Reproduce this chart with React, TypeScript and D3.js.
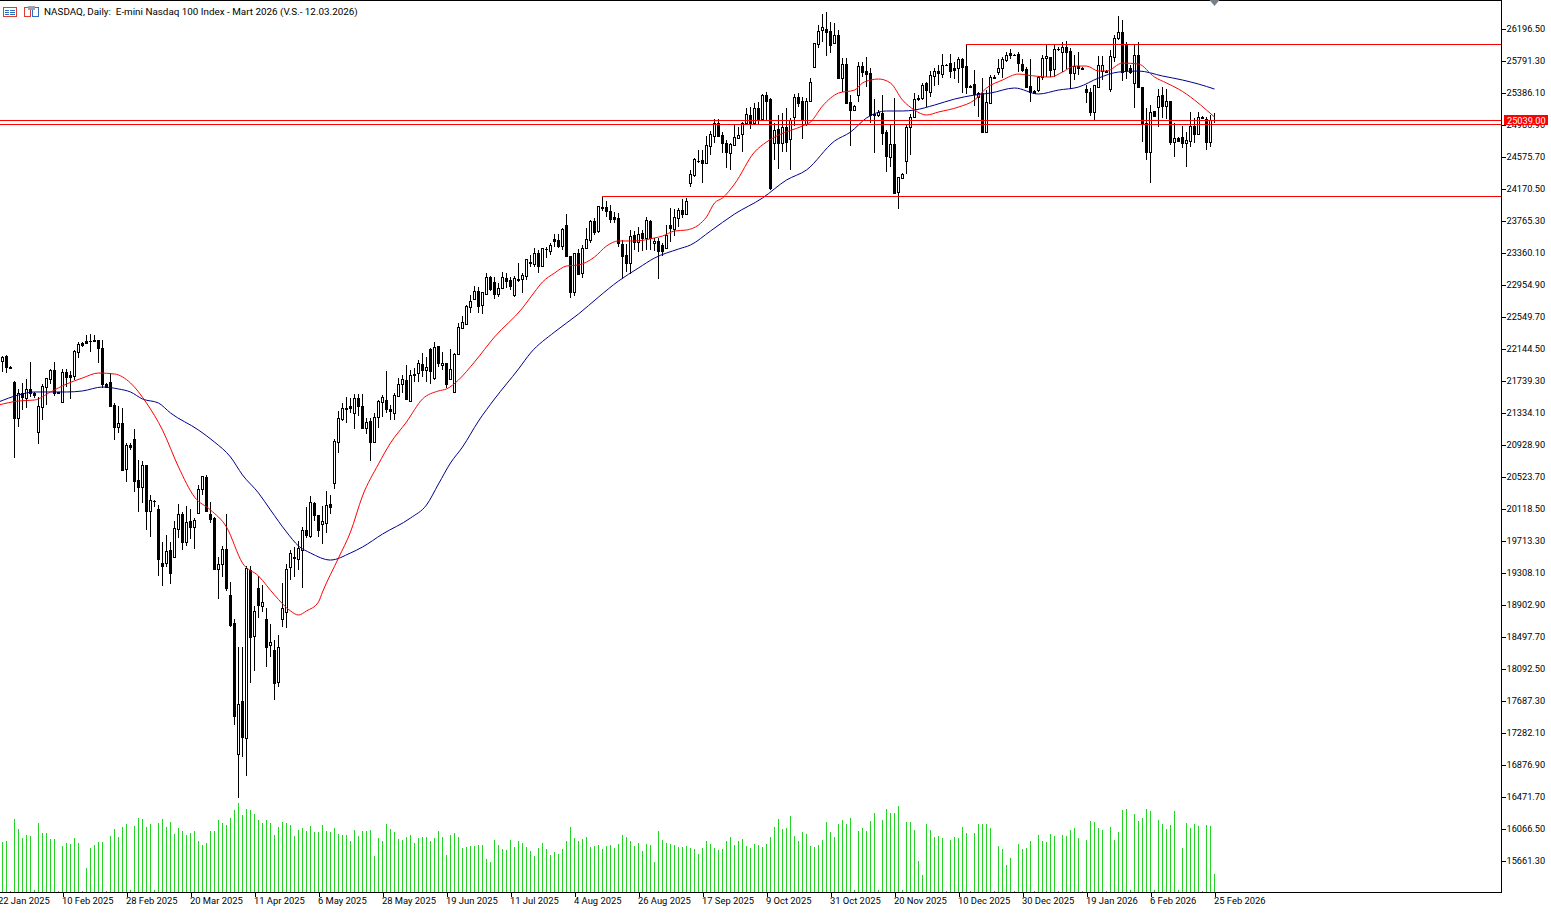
import { useEffect, useRef } from "react";
import * as d3 from "d3";

const WIDTH = 1551;
const HEIGHT = 913;

// daily bars: open, high, low, close
const ohlc: number[][] = [
  [21986,22049,21847,22036],[22049,22062,21834,21910],[21910,21923,21885,21900],[21721,21733,20758,21264],
  [21264,21632,21150,21581],[21581,21708,21366,21530],[21517,21759,21391,21632],[21632,21974,21530,21581],
  [21581,21590,21517,21556],[21087,21530,20935,21416],[21404,21695,21239,21670],[21657,21771,21429,21771],
  [21759,21885,21695,21872],[21872,21974,21543,21581],[21594,21600,21575,21581],[21467,21885,21467,21847],
  [21847,21885,21657,21784],[21809,21860,21505,21784],[21797,22125,21746,22112],[22100,22227,22024,22201],
  [22214,22227,22163,22189],[22239,22315,22201,22214],[22239,22328,22100,22235],[22252,22315,22227,22239],
  [22252,22252,21961,22151],[22151,22252,21645,21695],[21695,21708,21645,21657],[21721,21834,21404,21416],
  [21429,21454,20986,21150],[21150,21416,21074,21201],[21201,21391,20593,20606],[20619,20948,20454,20923],
  [20923,20948,20859,20897],[20998,21125,20327,20467],[20479,20733,20075,20391],[20391,20720,20188,20670],
  [20670,20670,19846,20087],[20087,20289,19758,20226],[20213,20226,20138,20219],[20112,20163,19264,19479],
  [19428,19695,19137,19390],[19428,19783,19378,19580],[19593,19695,19163,19302],[19504,19960,19504,19871],
  [19859,20176,19745,20049],[20049,20075,19593,19695],[19695,20150,19644,19948],[19960,20112,19732,19884],
  [19884,19998,19605,19973],[20062,20416,20062,20366],[20366,20530,20289,20530],[20517,20543,20075,20087],
  [20049,20201,19935,19986],[19998,20011,19352,19352],[19352,19504,18973,19416],[19416,19644,19251,19605],
  [19605,20049,19074,19112],[19023,19188,18618,18643],[18669,18720,17378,17491],[17010,18365,16453,17643],
  [17681,18365,16972,17225],[17213,19390,16731,19365],[19340,19390,17909,18491],[18504,18884,18061,18821],
  [19112,19264,18732,18897],[18884,19150,18808,18935],[18720,18859,18112,18365],[18390,18656,18238,18428],
  [18327,18453,17694,17909],[17922,18517,17858,18365],[18720,19175,18618,18859],[18808,19416,18605,19352],
  [19378,19593,19213,19555],[19504,19631,19251,19492],[19479,19707,19340,19618],[19593,19884,19112,19846],
  [19846,20138,19745,19783],[19770,20277,19745,20201],[20188,20201,19960,20037],[20037,20037,19758,19846],
  [19922,20150,19669,19960],[19935,20340,19808,20163],[20176,20289,20049,20138],[20441,20998,20366,20973],
  [20960,21353,20821,21264],[21252,21454,21226,21391],[21378,21530,21201,21391],[21416,21517,21328,21391],
  [21328,21568,21125,21517],[21517,21568,21290,21416],[21416,21568,21138,21138],[21138,21264,21062,21214],
  [21226,21264,20720,20960],[20960,21328,20960,21277],[21277,21492,21138,21480],[21467,21556,21277,21530],
  [21492,21860,21328,21378],[21378,21429,21239,21353],[21328,21581,21239,21556],[21543,21771,21530,21695],
  [21695,21809,21581,21759],[21746,21935,21492,21505],[21480,21872,21467,21809],[21815,21897,21721,21822],
  [21834,21999,21721,21961],[21948,22087,21784,21872],[21872,22036,21721,21910],[22138,22151,21695,21860],
  [21771,22227,21746,22163],[22176,22176,21910,21961],[21936,22100,21872,21961],[21961,21961,21645,21695],
  [21759,22138,21746,21885],[21594,22087,21594,22075],[22075,22467,22075,22416],[22404,22556,22404,22480],
  [22455,22695,22455,22682],[22670,22822,22594,22746],[22771,22936,22759,22872],[22872,22923,22594,22682],
  [22695,22860,22581,22860],[22835,23100,22822,23050],[23050,23062,22872,22898],[22986,23050,22771,22835],
  [22835,22974,22797,22910],[22910,23113,22898,23050],[23037,23100,22910,22999],[23012,23050,22885,22936],
  [22822,23062,22797,23037],[23015,23227,22986,23025],[23025,23100,22847,23075],[23062,23277,23012,23277],
  [23240,23328,23176,23227],[23214,23417,23176,23354],[23354,23392,23100,23189],[23189,23417,23176,23417],
  [23400,23430,23290,23405],[23379,23480,23328,23455],[23531,23594,23430,23506],[23518,23594,23417,23442],
  [23442,23670,23392,23657],[23708,23847,23303,23315],[23315,23315,22784,22860],[22860,23354,22810,23354],
  [23354,23405,23075,23088],[23100,23455,23037,23417],[23417,23670,23417,23531],[23518,23772,23480,23759],
  [23759,23797,23581,23620],[23632,23949,23607,23949],[23936,24062,23886,23920],[23936,24011,23810,23886],
  [23886,23962,23734,23784],[23810,23873,23734,23784],[23797,23860,23430,23480],[23468,23518,23025,23316],
  [23328,23468,23113,23227],[23227,23645,23088,23569],[23582,23632,23392,23493],[23493,23683,23366,23594],
  [23607,23645,23379,23544],[23544,23810,23392,23772],[23759,23772,23392,23544],[23480,23544,23379,23506],
  [23506,23544,23025,23379],[23455,23480,23316,23379],[23417,23708,23417,23582],[23708,23923,23493,23670],
  [23657,23911,23569,23810],[23797,23923,23683,23898],[23898,24037,23797,23847],[23847,24050,23847,24011],
  [24240,24405,24189,24354],[24341,24556,24316,24544],[24515,24658,24493,24520],[24531,24658,24240,24493],
  [24493,24835,24493,24721],[24708,24898,24594,24860],[24835,25050,24746,24999],[24999,25050,24822,24835],
  [24847,24885,24620,24746],[24746,24784,24430,24632],[24620,24746,24405,24733],[24721,24974,24721,24822],
  [24809,24949,24797,24847],[24860,25012,24632,24999],[24999,25190,24987,25114],[25101,25202,24924,24999],
  [24999,25253,24974,25190],[25190,25265,24987,25050],[25050,25367,25025,25354],[25354,25392,25038,25278],
  [25303,25316,24151,24176],[24746,24999,24531,24911],[24923,25101,24417,24746],[24746,25126,24632,24949],
  [24949,25190,24632,24759],[24797,25063,24405,25038],[25076,25367,24962,25329],[25329,25380,25202,25253],
  [25278,25329,24797,25050],[24987,25316,24962,25278],[25278,25569,25278,25519],[25709,26013,25696,26013],
  [26000,26240,25949,26165],[26177,26380,26025,26215],[26190,26405,25848,26152],[26165,26278,25886,25987],
  [26013,26266,26013,26114],[26114,26177,25557,25570],[25569,25823,25392,25747],[25747,25823,25253,25253],
  [25265,25354,24708,25164],[25164,25227,25151,25215],[25354,25772,25265,25721],[25721,25772,25582,25645],
  [25658,25835,25455,25620],[25632,25696,25000,25101],[25114,25303,24620,25101],[25101,25164,25076,25139],
  [25126,25354,24721,24873],[24885,24911,24379,24582],[24569,24987,24442,24734],[24734,25316,24101,24113],
  [24126,24316,23911,24316],[24303,24367,24290,24354],[24519,24987,24354,24949],[24949,25114,24595,25076],
  [25076,25380,25076,25303],[25310,25354,25278,25316],[25316,25506,25291,25481],[25506,25519,25202,25417],
  [25392,25658,25329,25607],[25594,25696,25468,25658],[25658,25734,25481,25632],[25620,25873,25569,25734],
  [25734,25747,25721,25730],[25759,25873,25569,25658],[25696,25772,25557,25671],[25696,25835,25506,25810],
  [25810,25823,25379,25709],[25721,26000,25367,25455],[25468,25480,25443,25455],[25493,25671,25215,25367],
  [25329,25392,25076,25379],[25379,25569,24885,24885],[24885,25417,24885,25265],[25253,25607,25240,25582],
  [25582,25607,25557,25569],[25645,25810,25607,25696],[25696,25835,25569,25810],[25797,25899,25772,25860],
  [25886,25937,25810,25860],[25860,25873,25848,25855],[25873,25899,25645,25759],[25747,25810,25645,25671],
  [25683,25709,25455,25455],[25468,25810,25265,25392],[25405,25417,25367,25379],[25417,25595,25392,25582],
  [25582,25860,25544,25823],[25823,25987,25582,25848],[25835,25835,25582,25671],[25683,26000,25582,25937],
  [25937,25962,25911,25943],[25899,26025,25645,25962],[25962,26038,25683,25899],[25911,25949,25430,25632],
  [25632,25860,25544,25721],[25721,25899,25607,25696],[25696,25709,25671,25683],[25430,25481,25253,25392],
  [25392,25443,25088,25139],[25139,25481,25025,25481],[25455,25848,25455,25734],[25658,25848,25544,25734],
  [25658,25671,25645,25652],[25430,25924,25392,25848],[25835,26114,25772,26076],[26076,26354,26051,26152],
  [26152,26304,25531,25645],[25987,26025,25557,25671],[25696,25734,25620,25645],[25506,25987,25189,25860],
  [25860,26025,25455,25455],[25455,25455,24759,24999],[24999,25190,24531,24632],[24632,25227,24240,25139],
  [25152,25152,25088,25088],[25202,25430,24949,25341],[25354,25455,25063,25215],[25215,25430,25050,25278],
  [25278,25278,24721,24759],[24759,24999,24569,24810],[24810,24822,24759,24772],[24822,24961,24683,24746],
  [24746,24885,24443,24784],[24772,25139,24696,24961],[24961,25063,24746,24860],[24860,25139,24860,25076],
  [25076,25085,25060,25066],[25050,25076,24658,24759],[24759,25101,24696,25038],[25038,25126,24999,25043],
];

// tick volume, relative to the indicator window
const volumes = [
  50,51,1.5,73,63,54,57,56,2,69,59,59,53,53,1.5,46,49,48,54,49,1.5,24,44,47,50,50,1.5,56,63,55,65,68,2,66,74,73,65,68,2,69,
  73,65,70,58,64,61,57,59,61,51,47,49,61,61,72,69,67,74,82,89,77,83,82,78,72,69,72,69,57,65,70,69,67,56,62,64,61,66,60,60,
  67,61,60,64,58,57,57,51,62,56,61,61,62,36,54,51,68,63,60,53,52,55,57,49,54,55,55,51,54,61,55,37,57,59,55,44,45,46,46,47,
  47,33,30,52,47,43,42,52,45,51,49,45,41,36,44,49,43,37,40,38,43,51,65,54,51,53,55,45,46,47,43,46,47,44,48,57,55,51,46,49,
  41,48,47,30,61,52,49,48,47,45,45,46,44,43,38,44,51,48,44,42,43,51,55,47,51,53,46,44,48,47,45,48,55,65,73,63,64,76,56,51,
  60,58,46,45,47,52,70,60,55,68,72,68,74,2,61,64,61,71,79,2,72,83,79,79,86,2,70,70,62,31,17,68,62,55,56,54,1.5,52,55,54,
  65,59,1.5,59,68,68,68,64,1.5,46,43,27,34,1.5,48,43,44,51,1.5,57,51,50,58,56,1.5,57,56,62,64,54,1.5,52,71,70,64,62,1.5,65,
  52,60,82,83,2,78,71,74,83,81,2,72,68,63,67,81,2,44,69,64,68,66,1.5,67,66,18,
];

// moving averages, read at the listed bars
const redMaBars = [-1,4,8,12,16,20,24,28,32,36,40,44,48,52,56,60,64,68,72,74,76,79,80,84,87,90,94,97,101,105,109,111,114,118,123,130,133,135,138,141,144,148,151,154,158,163,165,168,171,174,176,178,180,183,188,191,194,200,202,205,209,213,215,217,219,222,225,228,231,234,239,243,246,250,254,256,262,265,268,271,274,276,280,284,288,291,294,298,301,303];
const redMaValues = [21429,21480,21492,21594,21695,21771,21834,21822,21708,21454,21112,20644,20264,20100,19884,19428,19264,19023,18821,18770,18821,18935,19061,19492,19821,20277,20682,20948,21214,21505,21607,21632,21746,21974,22290,22657,22860,22986,23100,23189,23202,23303,23442,23506,23506,23544,23569,23632,23645,23708,23810,23987,24050,24227,24632,24759,24847,24962,25012,25215,25379,25417,25506,25544,25557,25506,25291,25164,25101,25139,25202,25291,25443,25544,25620,25607,25582,25645,25721,25721,25658,25658,25759,25747,25582,25506,25430,25291,25164,25076];
const blueMaBars = [-1,4,8,12,16,20,25,29,32,35,39,42,49,53,57,60,64,67,71,74,77,82,87,90,95,102,106,109,112,115,119,123,129,132,138,144,149,154,159,163,169,172,177,183,190,196,201,208,212,216,221,225,228,233,238,243,247,253,259,264,269,274,279,284,290,295,299,303];
const blueMaValues = [21467,21556,21594,21594,21594,21607,21657,21632,21594,21505,21454,21328,21112,20960,20771,20543,20315,20100,19821,19644,19555,19466,19555,19631,19795,19998,20163,20429,20695,20897,21226,21505,21885,22087,22353,22581,22796,22999,23164,23290,23404,23455,23632,23847,24050,24278,24405,24771,24885,25063,25152,25152,25164,25227,25303,25354,25379,25443,25367,25417,25455,25569,25645,25658,25595,25544,25493,25430];

const priceTicks = [26196.5,25791.3,25386.1,24980.9,24575.7,24170.5,23765.3,23360.1,22954.9,22549.7,22144.5,21739.3,21334.1,20928.9,20523.7,20118.5,19713.3,19308.1,18902.9,18497.7,18092.5,17687.3,17282.1,16876.9,16471.7,16066.5,15661.3];
const dateBars = [-1,15,31,47,63,79,95,111,127,143,159,175,191,207,223,239,255,271,287,303];
const dateLabels = ["22 Jan 2025","10 Feb 2025","28 Feb 2025","20 Mar 2025","11 Apr 2025","6 May 2025","28 May 2025","19 Jun 2025","11 Jul 2025","4 Aug 2025","26 Aug 2025","17 Sep 2025","9 Oct 2025","31 Oct 2025","20 Nov 2025","10 Dec 2025","30 Dec 2025","19 Jan 2026","6 Feb 2026","25 Feb 2026"];

const lastPrice = 25039;
const priceLines = [25039, 24986];
// support / resistance boxes: first bar and price level
const levelBars = [150, 241];
const levelPrices = [24075, 26000];

const title = "NASDAQ, Daily:  E-mini Nasdaq 100 Index - Mart 2026 (V.S.- 12.03.2026)";
const FONT = "Roboto, 'Liberation Sans', sans-serif";

export default function App() {
  const svgRef = useRef<SVGSVGElement>(null);

  useEffect(() => {
    if (!svgRef.current) return;
    const svg = d3.select(svgRef.current);
    svg.selectAll("*").remove();

    const plotRight = 1501;
    const plotBottom = 892;

    const x = d3.scaleLinear().domain([0, 303]).range([2, 1214]);
    const y = d3.scaleLinear().domain([15661.3, 26196.5]).range([860.5, 28.5]);
    const yPx = (v: number) => Math.round(y(v));
    const vol = d3.scaleLinear().domain([0, 100]).range([plotBottom, plotBottom - 100]);

    const plot = svg.append("g").attr("shape-rendering", "crispEdges");

    // volumes sit under everything else
    plot
      .selectAll("rect.vol")
      .data(volumes)
      .join("rect")
      .attr("class", "vol")
      .attr("x", (_, i) => x(i))
      .attr("y", (d) => Math.round(vol(d)))
      .attr("width", 1)
      .attr("height", (d) => plotBottom - Math.round(vol(d)))
      .attr("fill", "#26d226");

    // candles: wick, black body, white core for up bars
    const bars = plot.selectAll("g.bar").data(ohlc).join("g").attr("class", "bar");
    bars
      .append("rect")
      .attr("x", (_, i) => x(i))
      .attr("y", (d) => yPx(d[1]))
      .attr("width", 1)
      .attr("height", (d) => Math.max(1, yPx(d[2]) - yPx(d[1])))
      .attr("fill", "#000");
    bars
      .append("rect")
      .attr("x", (_, i) => x(i) - 1)
      .attr("y", (d) => yPx(Math.max(d[0], d[3])))
      .attr("width", 3)
      .attr("height", (d) => Math.max(1, yPx(Math.min(d[0], d[3])) - yPx(Math.max(d[0], d[3])) + 1))
      .attr("fill", "#000");
    bars
      .filter((d) => d[3] > d[0] && yPx(d[0]) - yPx(d[3]) >= 2)
      .append("rect")
      .attr("x", (d) => x(ohlc.indexOf(d)))
      .attr("y", (d) => yPx(d[3]) + 1)
      .attr("width", 1)
      .attr("height", (d) => yPx(d[0]) - yPx(d[3]) - 1)
      .attr("fill", "#fff");

    // moving averages
    const maLine = d3
      .line<[number, number]>()
      .x((d) => x(d[0]) + 0.5)
      .y((d) => y(d[1]))
      .curve(d3.curveMonotoneX);
    svg
      .append("path")
      .attr("d", maLine(blueMaBars.map((b, i) => [b, blueMaValues[i]] as [number, number])))
      .attr("fill", "none")
      .attr("stroke", "#00008b")
      .attr("stroke-width", 1);
    svg
      .append("path")
      .attr("d", maLine(redMaBars.map((b, i) => [b, redMaValues[i]] as [number, number])))
      .attr("fill", "none")
      .attr("stroke", "#ff0000")
      .attr("stroke-width", 1);

    // horizontal levels and current price lines
    const lines = svg.append("g").attr("shape-rendering", "crispEdges").attr("stroke", "#ff0000");
    levelPrices.forEach((p, i) => {
      lines
        .append("line")
        .attr("x1", x(levelBars[i]))
        .attr("x2", plotRight)
        .attr("y1", yPx(p) + 0.5)
        .attr("y2", yPx(p) + 0.5);
    });
    priceLines.forEach((p) => {
      lines
        .append("line")
        .attr("x1", 0)
        .attr("x2", plotRight)
        .attr("y1", yPx(p) + 0.5)
        .attr("y2", yPx(p) + 0.5);
    });

    // frame
    const frame = svg.append("g").attr("shape-rendering", "crispEdges").attr("stroke", "#000");
    frame.append("line").attr("x1", 0).attr("x2", plotRight + 1).attr("y1", 0.5).attr("y2", 0.5);
    frame.append("line").attr("x1", plotRight + 0.5).attr("x2", plotRight + 0.5).attr("y1", 0).attr("y2", plotBottom + 1);
    frame.append("line").attr("x1", 0).attr("x2", plotRight + 1).attr("y1", plotBottom + 0.5).attr("y2", plotBottom + 0.5);

    // price axis
    const yAxis = svg
      .append("g")
      .attr("transform", `translate(${plotRight + 0.5},0)`)
      .call(d3.axisRight(y).tickValues(priceTicks).tickSize(4).tickPadding(1).tickFormat(d3.format(".2f")));
    yAxis.select(".domain").remove();
    yAxis.selectAll("line").attr("stroke", "#000").attr("shape-rendering", "crispEdges");
    yAxis.selectAll("text").style("font-family", FONT).style("font-size", "9.2px").style("fill", "#000");

    // date axis, labels start at the tick
    const xAxis = svg
      .append("g")
      .attr("transform", `translate(0.5,${plotBottom + 0.5})`)
      .call(
        d3
          .axisBottom(x)
          .tickValues(dateBars)
          .tickSize(4)
          .tickPadding(1)
          .tickFormat((_, i) => dateLabels[i]),
      );
    xAxis.select(".domain").remove();
    xAxis.selectAll("line").attr("stroke", "#000").attr("shape-rendering", "crispEdges");
    xAxis
      .selectAll("text")
      .attr("text-anchor", "start")
      .attr("dx", -1)
      .style("font-family", FONT)
      .style("font-size", "9.4px")
      .style("fill", "#000");

    // current price tag
    svg
      .append("rect")
      .attr("x", 1504)
      .attr("y", yPx(lastPrice) - 5)
      .attr("width", 44)
      .attr("height", 10)
      .attr("fill", "#ff0000")
      .attr("shape-rendering", "crispEdges");
    svg
      .append("text")
      .attr("x", 1507)
      .attr("y", yPx(lastPrice) + 3.5)
      .style("font-family", FONT)
      .style("font-size", "9.2px")
      .style("fill", "#fff")
      .text(d3.format(".2f")(lastPrice));

    // last-bar marker at the top edge
    svg
      .append("path")
      .attr("d", d3.line()([[x(303) - 4.5, 0], [x(303) + 5.5, 0], [x(303) + 0.5, 6]]) + "Z")
      .attr("fill", "#7a808a");

    // header icons and title
    const icons = svg.append("g").attr("shape-rendering", "crispEdges").attr("fill", "none");
    icons.append("rect").attr("x", 3.5).attr("y", 7.5).attr("width", 13).attr("height", 9).attr("stroke", "#e03c31");
    [10, 12, 14].forEach((row) => {
      icons.append("rect").attr("x", 5).attr("y", row).attr("width", 4).attr("height", 1).attr("fill", "#2a6fc4");
      icons.append("rect").attr("x", 10).attr("y", row).attr("width", 5).attr("height", 1).attr("fill", "#2a6fc4");
    });
    icons.append("rect").attr("x", 24.5).attr("y", 7.5).attr("width", 6).attr("height", 9).attr("stroke", "#e03c31");
    icons.append("rect").attr("x", 32.5).attr("y", 7.5).attr("width", 6).attr("height", 9).attr("stroke", "#2a6fc4");
    icons.append("rect").attr("x", 28).attr("y", 6).attr("width", 7).attr("height", 4).attr("fill", "#9aa3ad");

    svg
      .append("text")
      .attr("x", 44)
      .attr("y", 15)
      .attr("xml:space", "preserve")
      .style("white-space", "pre")
      .style("font-family", FONT)
      .style("font-size", "9.85px")
      .style("fill", "#000")
      .text(title);
  }, []);

  return (
    <svg
      ref={svgRef}
      width={WIDTH}
      height={HEIGHT}
      role="img"
      aria-label="NASDAQ daily candlestick chart"
      style={{ position: "absolute", left: 0, top: 0, display: "block", background: "#fff" }}
    />
  );
}
